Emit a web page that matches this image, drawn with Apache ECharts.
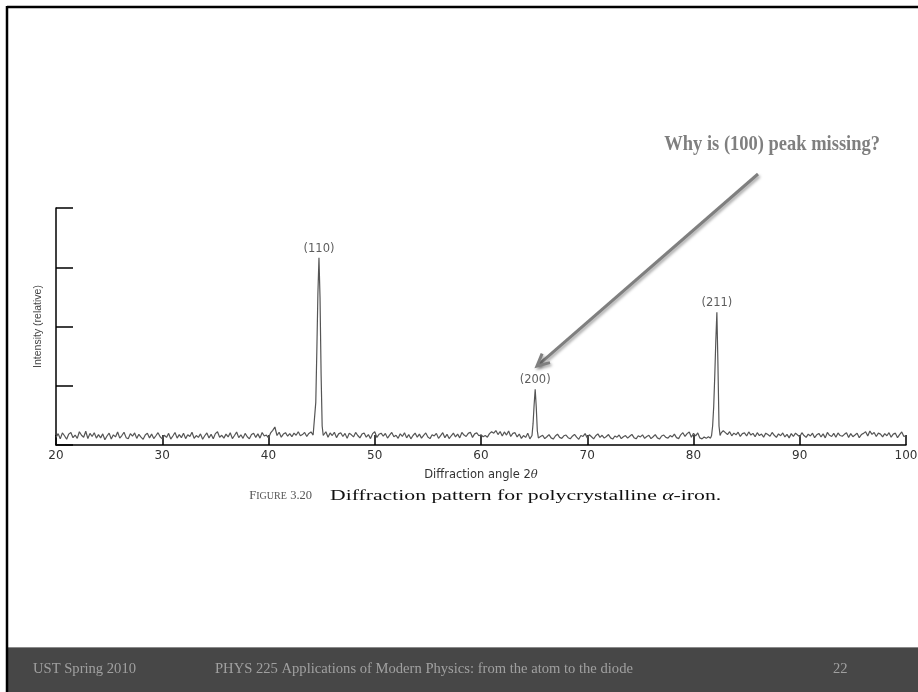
<!DOCTYPE html>
<html>
<head>
<meta charset="utf-8">
<script src="https://cdn.jsdelivr.net/npm/echarts@6/dist/echarts.min.js"></script>
<style>
html,body{margin:0;padding:0;background:#fff;}
#chart{width:918px;height:692px;}
</style>
</head>
<body>
<div id="chart"></div>
<script>
// ---- data ----
const angleStart = 20;      // degrees (2θ) of first background sample
const angleStep = 0.2;      // spacing of background samples
const xTicks = [20, 30, 40, 50, 60, 70, 80, 90, 100];
// background (noise) intensity, relative units, one value per 0.2°
const background = [
  3.2,4.8,2.6,5.1,3.9,2.4,4.6,5.3,3.1,4.2,
  2.8,5.6,4.1,3.3,5.8,2.7,4.9,3.6,5.2,2.9,
  4.4,3.0,4.7,2.2,3.8,5.0,2.5,4.3,3.4,5.5,
  2.9,4.0,5.4,3.1,2.6,4.8,3.7,5.1,2.8,4.5,
  3.3,2.4,4.2,5.0,3.0,4.6,2.7,3.9,5.2,3.5,
  2.6,4.1,3.2,4.9,2.5,3.8,5.3,2.9,4.4,3.1,
  5.0,2.7,4.3,3.6,5.4,2.8,4.0,3.2,4.7,2.4,
  3.9,5.1,3.0,4.5,2.6,4.8,5.6,3.3,4.1,2.9,
  4.6,3.4,5.2,2.7,4.0,5.5,3.1,4.3,2.8,4.9,
  3.5,2.6,4.4,5.0,3.2,4.7,2.9,5.3,3.8,4.2,
  3.0,5.1,6.2,7.6,4.0,5.4,3.3,4.6,5.2,3.7,
  4.8,3.5,5.0,4.1,5.6,3.9,4.4,5.3,3.6,4.9,
  5.5,4.2,5.0,3.8,6.0,5.0,4.1,5.6,3.3,5.1,
  4.0,5.4,3.1,4.7,5.2,3.6,4.9,2.8,5.0,4.3,
  3.4,5.3,4.0,3.0,4.6,5.1,3.3,4.4,2.7,4.8,
  5.6,3.2,4.5,5.0,3.7,4.9,2.9,4.2,5.3,3.5,
  4.1,2.8,4.7,3.6,5.2,3.0,4.4,2.6,4.0,5.0,
  3.3,4.6,2.9,4.1,5.1,3.4,2.7,4.3,3.8,4.9,
  2.8,4.0,5.2,3.1,4.5,2.7,3.9,5.0,3.4,4.6,
  3.0,5.3,4.2,3.6,4.9,5.4,3.2,4.7,5.1,3.9,
  4.3,3.5,4.0,3.3,4.8,5.6,5.0,6.1,4.4,5.7,
  3.8,5.5,4.2,5.9,3.6,4.9,5.2,3.4,4.6,2.8,
  4.0,3.2,5.0,2.6,4.4,3.0,4.3,2.9,3.6,4.1,
  2.7,3.5,4.4,3.0,2.5,3.8,4.6,3.2,2.8,3.9,
  4.2,3.1,2.6,3.7,4.5,3.3,2.4,4.0,3.6,4.8,
  3.0,4.3,3.5,2.6,3.9,4.7,3.2,4.1,2.9,3.6,
  4.4,3.0,2.5,3.8,3.3,4.2,2.7,3.5,4.0,2.9,
  3.7,4.5,3.1,2.6,3.9,3.4,4.3,2.8,3.6,4.1,
  2.7,3.5,4.4,3.0,2.5,3.8,4.2,3.2,2.9,4.0,
  3.4,4.6,3.1,2.7,4.3,5.2,3.6,4.8,5.5,3.3,
  4.9,3.8,5.1,3.0,2.6,3.4,2.8,3.5,2.9,3.2,
  5.0,4.6,5.8,5.1,6.0,5.2,4.4,5.6,3.9,5.0,
  4.3,5.4,3.6,4.8,5.1,3.8,5.5,4.2,4.9,3.5,
  5.2,4.0,4.6,3.3,5.0,4.4,3.7,5.3,4.1,3.2,
  4.7,3.9,5.1,3.4,4.5,3.0,4.8,3.6,5.0,4.2,
  3.5,5.2,4.0,3.2,4.6,3.8,5.0,3.1,4.3,4.9,
  3.4,4.7,3.0,5.3,4.1,3.6,4.9,3.3,5.1,4.0,
  3.7,4.5,5.2,3.2,4.8,3.5,4.2,5.0,3.1,4.4,
  4.9,5.6,3.8,5.9,4.5,5.3,3.6,5.0,4.6,3.4,
  4.8,3.9,5.2,3.3,4.6,5.0,3.1,4.4,5.5,3.6,
  4.0
];
// Bragg peaks: [2θ, intensity]
const peak110 = [[44.35,5],[44.45,18],[44.55,40],[44.65,64],[44.75,79],[44.85,62],[44.95,30],[45.05,8],[45.15,4]];
const peak200 = [[64.8,4],[64.9,9],[65.0,17],[65.1,23.5],[65.2,16],[65.3,6],[65.4,3]];
const peak211 = [[81.7,4],[81.8,8],[81.9,16],[82.0,29],[82.1,44],[82.2,56],[82.3,34],[82.4,8],[82.5,4]];
const peakLabels = ['(110)', '(200)', '(211)'];

// ---- build series data ----
const peaks = [peak110, peak200, peak211];
const windows = peaks.map(p => [p[0][0] - 0.05, p[p.length - 1][0] + 0.05]);
let pts = [];
background.forEach((v, i) => {
  const a = +(angleStart + i * angleStep).toFixed(2);
  if (!windows.some(w => a > w[0] && a < w[1])) pts.push([a, v]);
});
peaks.forEach(p => p.forEach(d => pts.push(d)));
pts.sort((a, b) => a[0] - b[0]);
const labelPts = peaks.map((p, i) => {
  const top = p.reduce((m, d) => d[1] > m[1] ? d : m, p[0]);
  return { value: [top[0], top[1]], name: peakLabels[i] };
});

const chart = echarts.init(document.getElementById('chart'), null, { renderer: 'canvas' });

// arrow geometry (annotation)
const tail = [758, 174], tip = [537, 366];
const dx = tip[0] - tail[0], dy = tip[1] - tail[1];
const L = Math.hypot(dx, dy), ux = dx / L, uy = dy / L;
const hb = [tip[0] - 12 * ux, tip[1] - 12 * uy];
const w1 = [hb[0] + 6 * uy, hb[1] - 6 * ux], w2 = [hb[0] - 6 * uy, hb[1] + 6 * ux];
const arrowShadow = { shadowBlur: 3, shadowOffsetX: 1.5, shadowOffsetY: 2, shadowColor: 'rgba(0,0,0,0.35)' };
const footFont = '14.6px "Liberation Serif"';

chart.setOption({
  animation: false,
  backgroundColor: '#ffffff',
  grid: { left: 56, right: 12, top: 208, bottom: 247, containLabel: false, outerBoundsMode: 'none' },
  xAxis: {
    type: 'value', min: 20, max: 100, interval: 10,
    name: 'Diffraction angle 2{i|θ}',
    nameLocation: 'middle', nameGap: 24,
    nameTextStyle: { fontFamily: 'DejaVu Sans', fontSize: 11.5, color: '#333',
      rich: { i: { fontFamily: 'DejaVu Serif', fontStyle: 'italic', fontSize: 11.5, color: '#333' } } },
    axisLine: { show: true, lineStyle: { color: '#000', width: 1.5 } },
    axisTick: { show: true, inside: true, length: 10, lineStyle: { color: '#000', width: 1.5 } },
    axisLabel: { margin: 5, fontFamily: 'DejaVu Sans', fontSize: 12, color: '#333',
      customValues: xTicks, formatter: v => String(v) },
    splitLine: { show: false }
  },
  yAxis: {
    type: 'value', min: 0, max: 100, interval: 25,
    name: 'Intensity (relative)', nameLocation: 'middle', nameGap: 12, nameRotate: 90,
    nameTextStyle: { fontFamily: 'Liberation Sans Narrow, Liberation Sans', fontSize: 10.5, color: '#444' },
    axisLine: { show: true, lineStyle: { color: '#000', width: 1.5 } },
    axisTick: { show: true, inside: true, length: 17, lineStyle: { color: '#000', width: 1.5 } },
    axisLabel: { show: false },
    splitLine: { show: false }
  },
  series: [
    {
      type: 'line', data: pts, showSymbol: false, symbol: 'none',
      lineStyle: { color: '#555', width: 1.2 }, z: 3
    },
    {
      type: 'scatter', data: labelPts, symbolSize: 0,
      label: { show: true, position: 'top', distance: 3, formatter: p => p.name,
        fontFamily: 'DejaVu Sans', fontSize: 11.5, color: '#333' },
      z: 4
    }
  ],
  graphic: [
    { type: 'line', shape: { x1: 7, y1: 7, x2: 918, y2: 7 }, style: { stroke: '#000', lineWidth: 2.5 } },
    { type: 'rect', shape: { x: 8, y: 647, width: 910, height: 45 }, style: { fill: '#474747' } },
    { type: 'line', shape: { x1: 8, y1: 647.5, x2: 918, y2: 647.5 }, style: { stroke: '#8a8a8a', lineWidth: 1 } },
    { type: 'line', shape: { x1: 7, y1: 6, x2: 7, y2: 692 }, style: { stroke: '#000', lineWidth: 2.5 } },
    { type: 'text', x: 33, y: 669, style: { text: 'UST Spring 2010', fill: '#a0a0a0', font: footFont, textVerticalAlign: 'middle' } },
    { type: 'text', x: 215, y: 669, style: { text: 'PHYS 225 Applications of Modern Physics: from the atom to the diode', fill: '#a0a0a0', font: footFont, textVerticalAlign: 'middle' } },
    { type: 'text', x: 833, y: 669, style: { text: '22', fill: '#a0a0a0', font: footFont, textVerticalAlign: 'middle' } },
    { type: 'text', x: 880, y: 144, scaleX: 0.84, style: { text: 'Why is (100) peak missing?', fill: '#7f7f7f', font: 'bold 22px "Liberation Serif"', textAlign: 'right', textVerticalAlign: 'middle' } },
    { type: 'line', shape: { x1: tail[0], y1: tail[1], x2: tip[0] - 1 * ux, y2: tip[1] - 1 * uy },
      style: Object.assign({ stroke: '#7f7f7f', lineWidth: 3 }, arrowShadow) },
    { type: 'polyline', shape: { points: [w1, tip, w2] },
      style: Object.assign({ stroke: '#7f7f7f', lineWidth: 3, fill: null, lineJoin: 'miter' }, arrowShadow) },
    { type: 'text', x: 312, y: 496, style: {
        text: '{sc|F}{sm|IGURE} {sc|3.20}',
        textAlign: 'right', textVerticalAlign: 'middle',
        rich: {
          sc: { fontFamily: 'Liberation Serif', fontSize: 12.5, fill: '#555' },
          sm: { fontFamily: 'Liberation Serif', fontSize: 10, fill: '#555' }
        } } },
    { type: 'text', x: 330, y: 496, scaleX: 1.4, style: {
        text: '{n|Diffraction pattern for polycrystalline }{it|α}{n|-iron.}',
        textAlign: 'left', textVerticalAlign: 'middle',
        rich: {
          n: { fontFamily: 'Liberation Serif', fontSize: 15.5, fill: '#111' },
          it: { fontFamily: 'Liberation Serif', fontStyle: 'italic', fontSize: 15.5, fill: '#111' }
        } } }
  ]
});
</script>
</body>
</html>
